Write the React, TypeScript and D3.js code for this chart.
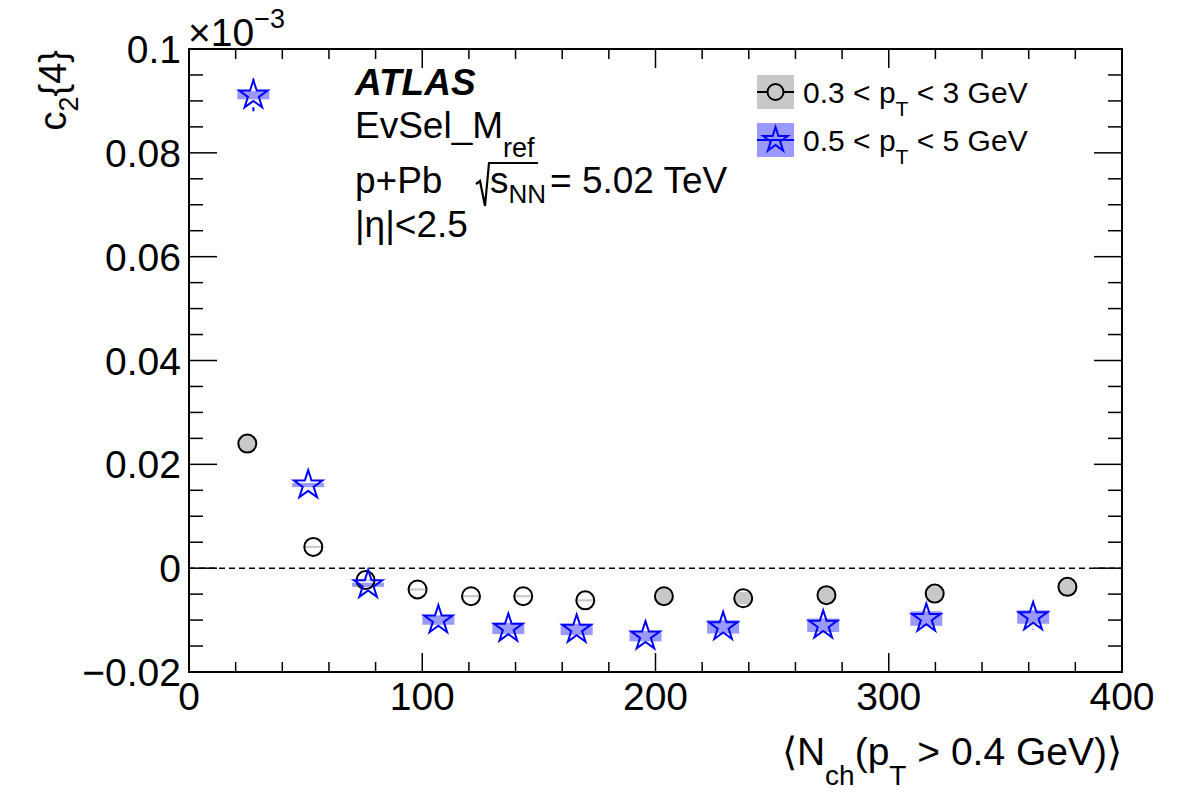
import { useEffect, useRef } from "react";
import * as d3 from "d3";

// 0.3 < pT < 3 GeV (open circles, grey syst boxes)
const lowX = [25.0, 53.3, 75.7, 98.0, 120.9, 143.3, 169.9, 203.6, 237.6, 273.3, 319.7, 376.6];
const lowY = [0.024, 0.0041, -0.0023, -0.0041, -0.0054, -0.0054, -0.0062, -0.0054, -0.0058, -0.0052, -0.0049, -0.0036];
const lowStat = [0.0008, 0.0006, 0.0006, 0.0006, 0.0006, 0.0006, 0.0006, 0.0008, 0.0008, 0.0008, 0.0008, 0.001];
const lowSyst = [0.0018, 0.0002, 0.0002, 0.0002, 0.0002, 0.0002, 0.0002, 0.0015, 0.0012, 0.0015, 0.0014, 0.0016];

// 0.5 < pT < 5 GeV (open stars, blue syst boxes)
const highX = [27.6, 51.1, 76.8, 106.9, 136.9, 166.2, 195.7, 229.0, 271.9, 316.1, 361.9];
const highY = [0.0911, 0.016, -0.0032, -0.01, -0.0116, -0.0118, -0.0131, -0.0113, -0.011, -0.0097, -0.0094];
const highStat = [0.0031, 0.0012, 0.0012, 0.0012, 0.0012, 0.0012, 0.0012, 0.0013, 0.0014, 0.0015, 0.0024];
const highSyst = [0.0008, 0.0004, 0.0004, 0.0009, 0.0011, 0.0011, 0.001, 0.0013, 0.0013, 0.0014, 0.0013];

const xTicks = [0, 100, 200, 300, 400];
const yTicks = [-0.02, 0, 0.02, 0.04, 0.06, 0.08, 0.1];
const yTickLabels = ["\u22120.02", "0", "0.02", "0.04", "0.06", "0.08", "0.1"];

const FONT = "'Liberation Sans', Arial, Helvetica, sans-serif";

export default function App() {
  const ref = useRef<SVGSVGElement>(null);

  useEffect(() => {
    document.body.style.margin = "0";
    if (!ref.current) return;
    const svg = d3.select(ref.current);
    svg.selectAll("*").remove();
    const W = 1182, H = 800;
    const m = { l: 189, r: 1122, t: 49, b: 672 };

    const x = d3.scaleLinear().domain([0, 400]).range([m.l, m.r]);
    const y = d3.scaleLinear().domain([-0.02, 0.1]).range([m.b, m.t]);

    svg.append("rect").attr("width", W).attr("height", H).attr("fill", "#fff");

    // zero line
    svg.append("line")
      .attr("x1", m.l).attr("x2", m.r).attr("y1", y(0)).attr("y2", y(0))
      .attr("stroke", "#000").attr("stroke-width", 1.5).attr("stroke-dasharray", "6 4");

    // grey syst boxes clipped to circle
    const defs = svg.append("defs");
    const cr = 9;
    const boxHalf = 16;
    lowX.forEach((v, i) => {
      defs.append("clipPath").attr("id", `cc${i}`)
        .append("circle").attr("cx", x(v)).attr("cy", y(lowY[i])).attr("r", cr);
    });
    svg.append("g").selectAll("rect").data(lowX).join("rect")
      .attr("clip-path", (_, i) => `url(#cc${i})`)
      .attr("x", (d) => x(d) - boxHalf).attr("width", boxHalf * 2)
      .attr("y", (_, i) => y(lowY[i] + lowSyst[i]))
      .attr("height", (_, i) => Math.max(2, y(lowY[i] - lowSyst[i]) - y(lowY[i] + lowSyst[i])))
      .attr("fill", "#c8c8c8");

    // blue syst boxes
    svg.append("g").selectAll("rect").data(highX).join("rect")
      .attr("x", (d) => x(d) - boxHalf).attr("width", boxHalf * 2)
      .attr("y", (_, i) => y(highY[i] + highSyst[i]))
      .attr("height", (_, i) => Math.max(3, y(highY[i] - highSyst[i]) - y(highY[i] + highSyst[i])))
      .attr("fill", "#9999ff");

    // stat error bars, outside the marker
    const starR = 15;
    const bars = (xs: number[], ys: number[], es: number[], gap: number, col: string) => {
      const g = svg.append("g").attr("stroke", col).attr("stroke-width", 2);
      xs.forEach((v, i) => {
        const cy = y(ys[i]);
        const top = y(ys[i] + es[i]);
        const bot = y(ys[i] - es[i]);
        if (cy - top > gap) g.append("line").attr("x1", x(v)).attr("x2", x(v)).attr("y1", top).attr("y2", cy - gap);
        if (bot - cy > gap) g.append("line").attr("x1", x(v)).attr("x2", x(v)).attr("y1", cy + gap).attr("y2", bot);
      });
    };
    bars(lowX, lowY, lowStat, cr, "#000");
    bars(highX, highY, highStat, starR - 3, "#0000ff");

    // markers
    svg.append("g").selectAll("circle").data(lowX).join("circle")
      .attr("cx", (d) => x(d)).attr("cy", (_, i) => y(lowY[i])).attr("r", cr)
      .attr("fill", "none").attr("stroke", "#000").attr("stroke-width", 2);

    const star = d3.symbol(d3.symbolStar, (starR * starR) / 0.8908130915);
    svg.append("g").selectAll("path").data(highX).join("path")
      .attr("transform", (d, i) => `translate(${x(d)},${y(highY[i])})`)
      .attr("d", star() as string)
      .attr("fill", "none").attr("stroke", "#0000ff").attr("stroke-width", 2)
      .attr("stroke-linejoin", "miter");

    // frame + ticks (inward, all sides)
    const ax = svg.append("g").attr("stroke", "#000").attr("stroke-width", 2);
    ax.append("rect").attr("x", m.l).attr("y", m.t).attr("width", m.r - m.l).attr("height", m.b - m.t).attr("fill", "none");
    d3.range(0, 21).forEach((k) => {
      const px = x(k * 20);
      const len = k % 5 === 0 ? 19 : 10;
      ax.append("line").attr("x1", px).attr("x2", px).attr("y1", m.b).attr("y2", m.b - len).attr("stroke-width", 1.5);
      ax.append("line").attr("x1", px).attr("x2", px).attr("y1", m.t).attr("y2", m.t + len).attr("stroke-width", 1.5);
    });
    d3.range(0, 25).forEach((k) => {
      const py = y(-0.02 + k * 0.005);
      const len = k % 4 === 0 ? 28 : 14;
      ax.append("line").attr("x1", m.l).attr("x2", m.l + len).attr("y1", py).attr("y2", py).attr("stroke-width", 1.5);
      ax.append("line").attr("x1", m.r).attr("x2", m.r - len).attr("y1", py).attr("y2", py).attr("stroke-width", 1.5);
    });

    const txt = svg.append("g").attr("font-family", FONT).attr("fill", "#000");

    // tick labels
    txt.selectAll("text.xl").data(xTicks).join("text").attr("class", "xl")
      .attr("x", (d) => x(d)).attr("y", 710).attr("text-anchor", "middle").attr("font-size", 39)
      .text((d) => String(d));
    txt.selectAll("text.yl").data(yTicks).join("text").attr("class", "yl")
      .attr("x", 181).attr("y", (d) => y(d) + 14).attr("text-anchor", "end").attr("font-size", 39)
      .text((_, i) => yTickLabels[i]);

    // exponent
    const ex = txt.append("text").attr("x", 188).attr("y", 46).attr("font-size", 39);
    ex.append("tspan").text("\u00d710");
    ex.append("tspan").attr("dy", -18).attr("font-size", 27).text("\u22123");

    // axis titles
    const xt = txt.append("text").attr("x", m.r).attr("y", 765).attr("text-anchor", "end").attr("font-size", 39);
    xt.append("tspan").text("\u27e8N");
    xt.append("tspan").attr("dy", 20).attr("font-size", 28).text("ch");
    xt.append("tspan").attr("dy", -20).text("(p");
    xt.append("tspan").attr("dy", 20).attr("font-size", 28).text("T");
    xt.append("tspan").attr("dy", -20).text(" > 0.4 GeV)\u27e9");

    const yt = txt.append("text").attr("transform", `translate(66,${m.t + 1}) rotate(-90)`)
      .attr("text-anchor", "end").attr("font-size", 38);
    yt.append("tspan").text("c");
    yt.append("tspan").attr("dy", 12).attr("font-size", 27).text("2");
    yt.append("tspan").attr("dy", -12).text("{4}");

    // ATLAS label block
    txt.append("text").attr("x", 355).attr("y", 95).attr("font-size", 37)
      .attr("font-weight", "bold").attr("font-style", "italic").text("ATLAS");
    const ev = txt.append("text").attr("x", 355).attr("y", 138).attr("font-size", 37);
    ev.append("tspan").text("EvSel_M");
    ev.append("tspan").attr("dy", 19).attr("font-size", 27).text("ref");

    txt.append("text").attr("x", 355).attr("y", 193).attr("font-size", 37).text("p+Pb");
    svg.append("path")
      .attr("d", "M476,184 L480,181 L485,206 L489,163 L538,163")
      .attr("fill", "none").attr("stroke", "#000").attr("stroke-width", 2.2);
    const sq = txt.append("text").attr("x", 490).attr("y", 193).attr("font-size", 37);
    sq.append("tspan").text("s");
    sq.append("tspan").attr("dy", 10).attr("font-size", 26).text("NN");
    txt.append("text").attr("x", 550).attr("y", 193).attr("font-size", 37).text("= 5.02 TeV");
    txt.append("text").attr("x", 355).attr("y", 237).attr("font-size", 37).text("|\u03b7|<2.5");

    // legend
    const lg = svg.append("g");
    const lx = 757, lw = 37;
    const rows = [
      { cy: 92, box: "#c8c8c8", col: "#000", lbl: ["0.3 < p", "T", " < 3 GeV"] },
      { cy: 140, box: "#9999ff", col: "#0000ff", lbl: ["0.5 < p", "T", " < 5 GeV"] },
    ];
    rows.forEach((r, i) => {
      lg.append("rect").attr("x", lx).attr("y", r.cy - 17).attr("width", lw).attr("height", 34).attr("fill", r.box);
      lg.append("line").attr("x1", lx).attr("x2", lx + lw).attr("y1", r.cy).attr("y2", r.cy)
        .attr("stroke", r.col).attr("stroke-width", 2);
      if (i === 0) {
        lg.append("circle").attr("cx", lx + lw / 2).attr("cy", r.cy).attr("r", 8)
          .attr("fill", r.box).attr("stroke", "#000").attr("stroke-width", 2);
      } else {
        lg.append("path").attr("transform", `translate(${lx + lw / 2},${r.cy})`)
          .attr("d", d3.symbol(d3.symbolStar, 190)() as string)
          .attr("fill", "none").attr("stroke", "#0000ff").attr("stroke-width", 2);
      }
      const t = lg.append("text").attr("x", 803).attr("y", r.cy + 11).attr("font-family", FONT).attr("font-size", 30);
      t.append("tspan").text(r.lbl[0]);
      t.append("tspan").attr("dy", 13).attr("font-size", 21).text(r.lbl[1]);
      t.append("tspan").attr("dy", -13).text(r.lbl[2]);
    });
  }, []);

  return <svg ref={ref} width={1182} height={800} style={{ display: "block" }} />;
}
